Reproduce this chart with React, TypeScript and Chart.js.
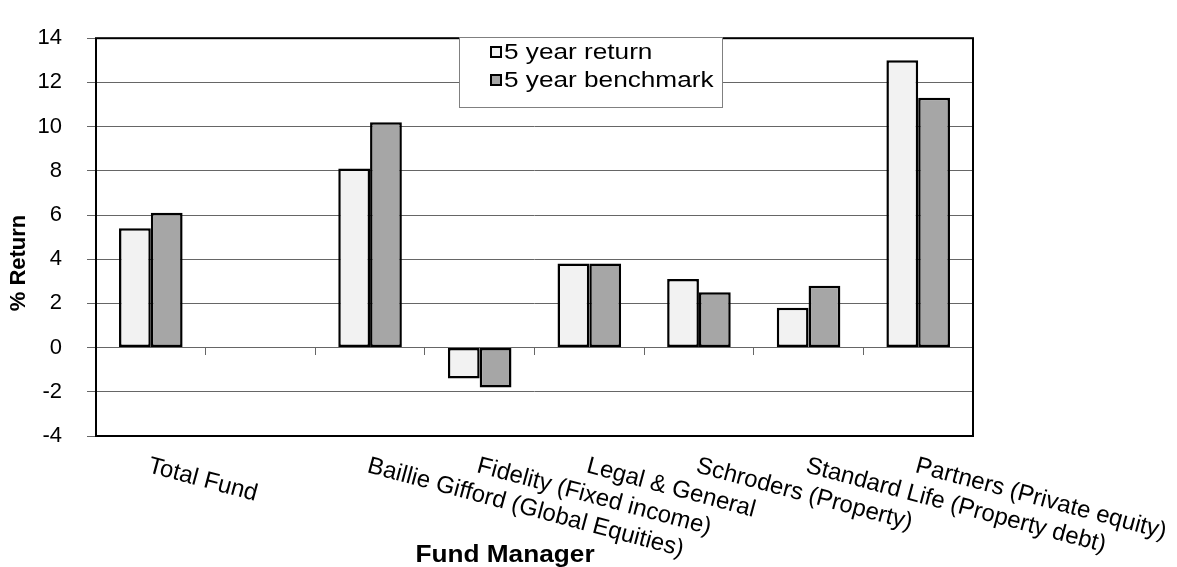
import React, { useEffect, useRef } from "react";
import { Chart, registerables } from "chart.js";

Chart.register(...registerables);

const categories = [
  "Total Fund",
  "",
  "Baillie Gifford (Global Equities)",
  "Fidelity (Fixed income)",
  "Legal & General",
  "Schroders (Property)",
  "Standard Life (Property debt)",
  "Partners (Private equity)",
];
const fiveYearReturn = [5.4, null, 8.1, -1.4, 3.8, 3.1, 1.8, 13.0];
const fiveYearBenchmark = [6.1, null, 10.2, -1.8, 3.8, 2.5, 2.8, 11.3];
const seriesLabels = ["5 year return", "5 year benchmark"];
const seriesColors = ["#f2f2f2", "#a6a6a6"];
const yMin = -4;
const yMax = 14;
const yStep = 2;
const yTitle = "% Return";
const xTitle = "Fund Manager";

const FONT = '"Liberation Sans", Arial, sans-serif';

const customPlugin = {
  id: "customDecor",
  afterDraw(chart: any) {
    const { ctx, chartArea, scales } = chart;
    const x = scales.x;
    ctx.save();
    // plot border
    ctx.strokeStyle = "#000";
    ctx.lineWidth = 2;
    ctx.strokeRect(
      chartArea.left,
      chartArea.top,
      chartArea.right - chartArea.left,
      chartArea.bottom - chartArea.top
    );

    // rotated category labels
    ctx.font = "24px " + FONT;
    ctx.fillStyle = "#000";
    ctx.textAlign = "left";
    ctx.textBaseline = "top";
    categories.forEach((c, i) => {
      if (!c) return;
      const px = x.getPixelForValue(i);
      ctx.save();
      ctx.translate(px + 1, chartArea.bottom + 18);
      ctx.rotate((15 * Math.PI) / 180);
      ctx.fillText(c, 0, 0);
      ctx.restore();
    });

    // axis titles
    ctx.font = "bold 22px " + FONT;
    ctx.textAlign = "center";
    ctx.textBaseline = "middle";
    ctx.save();
    ctx.translate(19, 263);
    ctx.rotate(-Math.PI / 2);
    ctx.fillText(yTitle, 0, 0);
    ctx.restore();

    ctx.font = "bold 23px " + FONT;
    ctx.textBaseline = "alphabetic";
    ctx.save();
    ctx.translate(505, 562);
    ctx.scale(1.14, 1);
    ctx.fillText(xTitle, 0, 0);
    ctx.restore();

    // legend
    const lx = 459, ly = 37, lw = 263, lh = 70;
    ctx.fillStyle = "#fff";
    ctx.fillRect(lx, ly, lw, lh);
    ctx.strokeStyle = "#808080";
    ctx.lineWidth = 1;
    ctx.strokeRect(lx + 0.5, ly + 0.5, lw, lh);
    const rows = [52, 80];
    chart.data.datasets.forEach((ds: any, i: number) => {
      const cy = rows[i];
      ctx.fillStyle = ds.backgroundColor;
      ctx.fillRect(491, cy - 5, 10, 10);
      ctx.strokeStyle = "#000";
      ctx.lineWidth = 2;
      ctx.strokeRect(491, cy - 5, 10, 10);
      ctx.fillStyle = "#000";
      ctx.font = "22px " + FONT;
      ctx.textAlign = "left";
      ctx.textBaseline = "middle";
      ctx.save();
      ctx.translate(504, cy + 1);
      ctx.scale(1.19, 1);
      ctx.fillText(ds.label, 0, 0);
      ctx.restore();
    });
    ctx.restore();
  },
};

export default function App() {
  const ref = useRef<HTMLCanvasElement | null>(null);
  useEffect(() => {
    if (!ref.current) return;
    const chart = new Chart(ref.current, {
      type: "bar",
      data: {
        labels: categories,
        datasets: [
          {
            label: seriesLabels[0],
            data: fiveYearReturn,
            backgroundColor: seriesColors[0],
            borderColor: "#000",
            borderWidth: 2.5,
            borderSkipped: false,
          },
          {
            label: seriesLabels[1],
            data: fiveYearBenchmark,
            backgroundColor: seriesColors[1],
            borderColor: "#000",
            borderWidth: 2.5,
            borderSkipped: false,
          },
        ],
      },
      options: {
        responsive: false,
        animation: false,
        devicePixelRatio: 1,
        layout: { padding: { left: 0, top: 19, right: 204, bottom: 131 } },
        plugins: {
          legend: { display: false },
          tooltip: { enabled: false },
          title: { display: false },
        },
        datasets: {
          bar: { categoryPercentage: 0.58, barPercentage: 1 },
        },
        scales: {
          x: {
            type: "category",
            position: { y: 0 },
            offset: true,
            grid: {
              offset: true,
              drawOnChartArea: false,
              drawTicks: true,
              tickLength: 7,
              color: "#666",
              lineWidth: 1,
            },
            border: { display: true, color: "#666", width: 1 },
            ticks: { display: false },
          },
          y: {
            min: yMin,
            max: yMax,
            afterFit(scale: any) {
              scale.width = 96;
            },
            ticks: {
              stepSize: yStep,
              padding: 25,
              color: "#000",
              font: { size: 22, family: FONT },
            },
            grid: {
              color: "#666",
              lineWidth: 1,
              tickLength: 9,
            },
            border: { display: false },
          },
        },
      },
      plugins: [customPlugin],
    });
    return () => chart.destroy();
  }, []);
  return (
    <div style={{ position: "fixed", left: 0, top: 0, width: 1177, height: 567 }}>
      <canvas ref={ref} width={1177} height={567} />
    </div>
  );
}
